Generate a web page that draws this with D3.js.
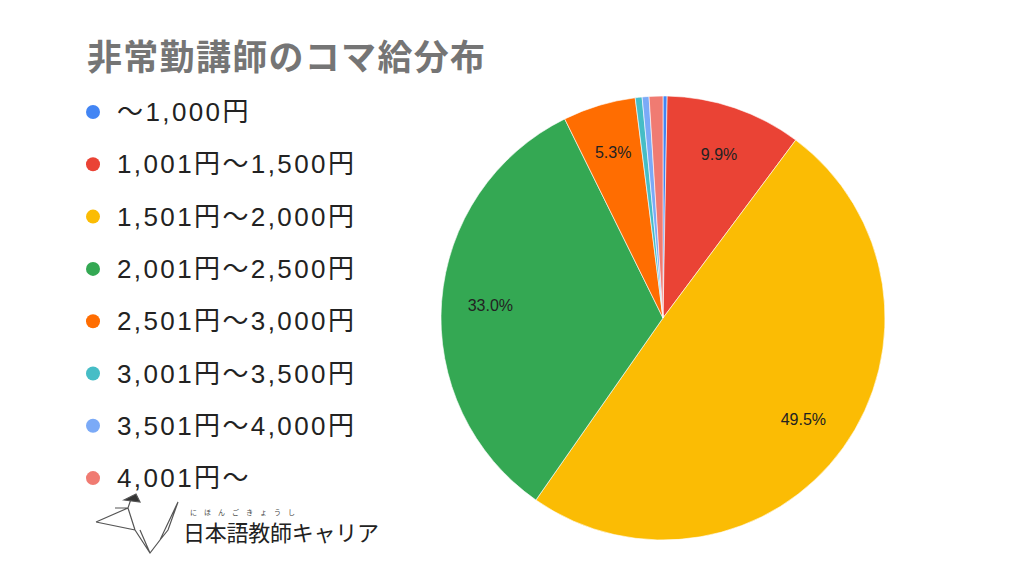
<!DOCTYPE html>
<html><head><meta charset="utf-8">
<script src="https://cdn.jsdelivr.net/npm/d3@7"></script>
<style>body{margin:0;background:#fff;font-family:"Noto Sans CJK JP","Noto Sans",sans-serif}</style>
</head><body><svg id="c" width="1024" height="576"></svg>
<script>
// chart data
var categories = ["〜1,000円","1,001円〜1,500円","1,501円〜2,000円","2,001円〜2,500円","2,501円〜3,000円","3,001円〜3,500円","3,501円〜4,000円","4,001円〜"];
var values = [0.3, 9.9, 49.5, 33.0, 5.3, 0.5, 0.5, 1.0];
var colors = ["#4285f4","#ea4335","#fbbc04","#34a853","#ff6d01","#46bdc6","#7baaf7","#f07b72"];

var svg = d3.select("#c");
svg.append("text").attr("x", 87).attr("y", 70).attr("font-size", 35).attr("font-weight", "bold")
    .attr("fill", "#757575").attr("textLength", 398).text("非常勤講師のコマ給分布");

var leg = svg.selectAll("g.leg").data(categories).enter().append("g")
    .attr("transform", function (d, i) { return "translate(93," + (112 + i * 52.3) + ")"; });
leg.append("circle").attr("r", 7).attr("fill", function (d, i) { return colors[i]; });
leg.append("text").attr("x", 24).attr("y", 9).attr("font-size", 26).attr("letter-spacing", 2.4)
    .attr("font-family", "'Liberation Sans','Noto Sans CJK JP',sans-serif")
    .attr("fill", "#222").text(function (d) { return d; });

var cx = 663, cy = 318, r = 222;
var pie = d3.pie().sort(null).value(function (d) { return d; });
var arc = d3.arc().innerRadius(0).outerRadius(r);
var g = svg.append("g").attr("transform", "translate(" + cx + "," + cy + ")");
var arcs = pie(values);
g.selectAll("path").data(arcs).enter().append("path")
    .attr("d", arc).attr("fill", function (d, i) { return colors[i]; })
    .attr("stroke", "#fff").attr("stroke-width", 0.6);

var labelArc = d3.arc().innerRadius(r * 0.78).outerRadius(r * 0.78);
g.selectAll("text").data(arcs.filter(function (d) { return d.data >= 5; })).enter().append("text")
    .attr("transform", function (d) { return "translate(" + labelArc.centroid(d) + ")"; })
    .attr("text-anchor", "middle").attr("dy", "0.35em").attr("font-size", 16)
    .attr("font-family", "'Liberation Sans',Arial,sans-serif").attr("fill", "#222")
    .text(function (d) { return d.data.toFixed(1) + "%"; });

// logo
var logo = svg.append("g").attr("fill", "none").attr("stroke", "#555").attr("stroke-width", 1.2);
logo.append("path").attr("d", "M96,522 L135,530 L150,553 L160,540 L178,502 L168,530 L160,540 M96,522 L128,508 L135,530 M115,508 L128,508 L132,496 M140,530 L150,553");
logo.append("path").attr("d", "M124,500 L136,494 L140,502 Z").attr("fill", "#333");
svg.append("text").attr("x", 183).attr("y", 541).attr("font-size", 22).attr("fill", "#222")
    .attr("textLength", 196).text("日本語教師キャリア");
svg.append("text").attr("x", 190).attr("y", 515).attr("font-size", 7).attr("letter-spacing", 7).attr("fill", "#444").text("にほんごきょうし");
</script></body></html>
